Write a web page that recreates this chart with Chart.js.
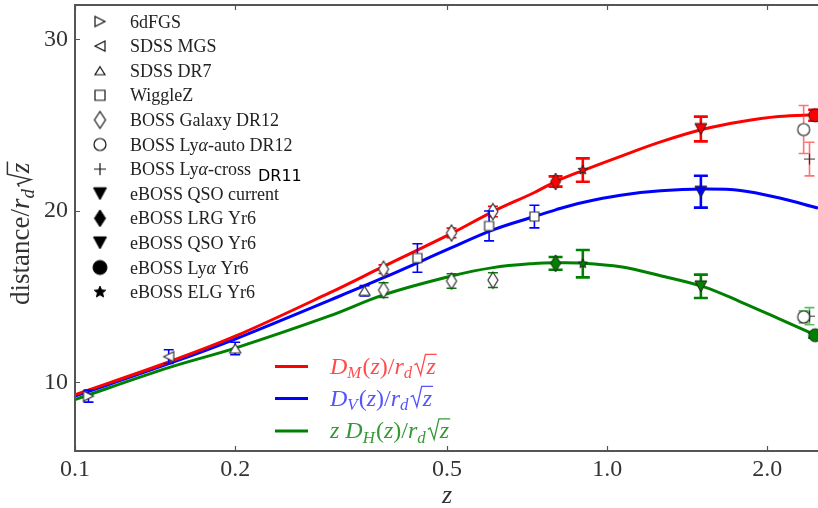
<!DOCTYPE html>
<html>
<head>
<meta charset="utf-8">
<script src="https://cdn.jsdelivr.net/npm/chart.js@4.4.1/dist/chart.umd.min.js"></script>
<style>
  html, body { margin: 0; padding: 0; background: #fff; overflow: hidden; }
  #wrap { width: 818px; height: 508px; }
</style>
</head>
<body>
<div id="wrap"><canvas id="c" width="818" height="508"></canvas></div>
<script>
// model curves
const Z_CURVE  = [0.1, 0.15, 0.2, 0.3, 0.38, 0.51, 0.61, 0.73, 0.8, 0.9, 1.06, 1.26, 1.52, 1.78, 2.1, 2.49];
const DM_CURVE = [9.28, 11.19, 12.69, 15.2, 16.76, 18.69, 19.96, 21.07, 21.71, 22.35, 23.18, 24.02, 24.77, 25.2, 25.5, 25.61];
const DV_CURVE = [9.2, 11.09, 12.53, 14.77, 16.1, 17.85, 18.89, 19.67, 20.06, 20.49, 20.91, 21.17, 21.27, 21.19, 20.76, 20.16];
const DH_CURVE = [9.0, 10.86, 12.0, 13.86, 15.1, 16.2, 16.69, 16.93, 16.97, 16.95, 16.74, 16.22, 15.57, 14.7, 13.72, 12.69];

// measurements
const Z_6DF = [0.106], DV_6DF = [9.2], DV_6DF_ERR = [0.35];
const Z_MGS = [0.15], DV_MGS = [11.5], DV_MGS_ERR = [0.4];
const Z_DR7 = [0.2, 0.35], DV_DR7 = [11.98, 15.34], DV_DR7_ERR = [0.36, 0.3];
const Z_WIGGLEZ = [0.44, 0.6, 0.73], DV_WIGGLEZ = [17.25, 19.12, 19.67], DV_WIGGLEZ_ERR = [0.83, 0.87, 0.66];
const Z_BOSS = [0.38, 0.51, 0.61];
const DM_BOSS = [16.6, 18.71, 19.96], DM_BOSS_ERR = [0.25, 0.28, 0.3];
const DH_BOSS = [15.38, 15.91, 15.96], DH_BOSS_ERR = [0.43, 0.42, 0.43];
const Z_LYA_AUTO = [2.34], DM_LYA_AUTO = [24.74], DM_LYA_AUTO_ERR = [1.4], DH_LYA_AUTO = [13.82], DH_LYA_AUTO_ERR = [0.35];
const Z_LYA_CROSS = [2.40], DM_LYA_CROSS = [23.02], DM_LYA_CROSS_ERR = [0.98], DH_LYA_CROSS = [13.86], DH_LYA_CROSS_ERR = [0.5];

// eBOSS forecasts
const Z_LRG = [0.8], DM_LRG = [21.71], DM_LRG_ERR = [0.3], DH_LRG = [16.94], DH_LRG_ERR = [0.37];
const Z_ELG = [0.9], DM_ELG = [22.38], DM_ELG_ERR = [0.68], DH_ELG = [16.92], DH_ELG_ERR = [0.8];
const Z_QSO = [1.5], DM_QSO = [24.77], DM_QSO_ERR = [0.72], DV_QSO = [21.12], DV_QSO_ERR = [0.93], DH_QSO = [15.6], DH_QSO_ERR = [0.68];
const Z_LYA = [2.46], DM_LYA = [25.57], DM_LYA_ERR = [0.32], DH_LYA = [12.75], DH_LYA_ERR = [0.15];

const X_TICKS = [0.1, 0.2, 0.5, 1.0, 2.0];
const Y_TICKS = [10, 20, 30];
const LEGEND_LABELS = ['6dFGS', 'SDSS MGS', 'SDSS DR7', 'WiggleZ', 'BOSS Galaxy DR12', 'BOSS Lyα-auto DR12',
  'BOSS Lyα-cross', 'eBOSS QSO current', 'eBOSS LRG Yr6', 'eBOSS QSO Yr6', 'eBOSS Lyα Yr6', 'eBOSS ELG Yr6'];

const RED = '#ff0000', BLUE = '#0000ff', GREEN = '#008000';
const SERIF = '"Liberation Serif", "DejaVu Serif", serif';

// little canvases used as point styles
function marker(kind, fill, stroke, w, h, lw) {
  const pad = 2;
  const c = document.createElement('canvas');
  c.width = Math.ceil(w + 2 * pad); c.height = Math.ceil(h + 2 * pad);
  const g = c.getContext('2d');
  const cx = c.width / 2, cy = c.height / 2, rx = w / 2, ry = h / 2;
  g.beginPath();
  if (kind == 'up') { g.moveTo(cx, cy - ry); g.lineTo(cx + rx, cy + ry); g.lineTo(cx - rx, cy + ry); g.closePath(); }
  else if (kind == 'down') { g.moveTo(cx, cy + ry); g.lineTo(cx + rx, cy - ry); g.lineTo(cx - rx, cy - ry); g.closePath(); }
  else if (kind == 'right') { g.moveTo(cx + rx, cy); g.lineTo(cx - rx, cy - ry); g.lineTo(cx - rx, cy + ry); g.closePath(); }
  else if (kind == 'left') { g.moveTo(cx - rx, cy); g.lineTo(cx + rx, cy - ry); g.lineTo(cx + rx, cy + ry); g.closePath(); }
  else if (kind == 'square') { g.rect(cx - rx, cy - ry, w, h); }
  else if (kind == 'diamond') { g.moveTo(cx, cy - ry); g.lineTo(cx + rx, cy); g.lineTo(cx, cy + ry); g.lineTo(cx - rx, cy); g.closePath(); }
  else if (kind == 'circle') { g.arc(cx, cy, rx, 0, Math.PI * 2); }
  else if (kind == 'plus') { g.moveTo(cx - rx, cy); g.lineTo(cx + rx, cy); g.moveTo(cx, cy - ry); g.lineTo(cx, cy + ry); }
  else if (kind == 'star') {
    for (let i = 0; i < 10; i++) {
      const r = i % 2 ? rx * 0.45 : rx;
      const a = -Math.PI / 2 + i * Math.PI / 5;
      const px = cx + r * Math.cos(a), py = cy + r * Math.sin(a) * (ry / rx);
      i ? g.lineTo(px, py) : g.moveTo(px, py);
    }
    g.closePath();
  }
  if (fill && kind != 'plus') { g.fillStyle = fill; g.fill(); }
  g.strokeStyle = stroke; g.lineWidth = lw; g.stroke();
  return c;
}

const OPEN = '#ffffff', EDGE = '#333333';
const M = {
  right: marker('right', OPEN, EDGE, 10, 10, 1.2),
  left: marker('left', OPEN, EDGE, 10, 10, 1.2),
  up: marker('up', OPEN, EDGE, 11, 9, 1.2),
  square: marker('square', OPEN, EDGE, 9, 9, 1.2),
  diamond: marker('diamond', OPEN, EDGE, 10, 16, 1.2),
  circle: marker('circle', OPEN, EDGE, 12, 12, 1.2),
  plus: marker('plus', null, EDGE, 11, 11, 1.2),
};

function curve(label, ys, color) {
  return {
    type: 'line', label: label,
    data: Z_CURVE.map((z, i) => ({ x: z, y: ys[i] })),
    borderColor: color, borderWidth: 3, pointRadius: 0,
    tension: 0.35, fill: false, order: 10
  };
}

function obs(zs, vs, errs, style, errColor, errWidth, capW) {
  return {
    type: 'scatter',
    data: zs.map((z, i) => ({ x: z, y: vs[i] })),
    pointStyle: style, pointRadius: 5, pointHoverRadius: 5,
    err: errs, errColor: errColor, errWidth: errWidth, capW: capW, order: 0
  };
}

const RED_LIGHT = 'rgba(255,40,40,0.65)', GREEN_LIGHT = 'rgba(0,140,0,0.6)';

const datasets = [
  curve('DM', DM_CURVE, RED),
  curve('DV', DV_CURVE, BLUE),
  curve('DH', DH_CURVE, GREEN),
  obs(Z_6DF, DV_6DF, DV_6DF_ERR, M.right, BLUE, 1.6, 10),
  obs(Z_MGS, DV_MGS, DV_MGS_ERR, M.left, BLUE, 1.6, 10),
  obs(Z_DR7, DV_DR7, DV_DR7_ERR, M.up, BLUE, 1.6, 10),
  obs(Z_WIGGLEZ, DV_WIGGLEZ, DV_WIGGLEZ_ERR, M.square, BLUE, 1.6, 10),
  obs(Z_BOSS, DM_BOSS, DM_BOSS_ERR, M.diamond, RED, 1.6, 10),
  obs(Z_BOSS, DH_BOSS, DH_BOSS_ERR, M.diamond, GREEN, 1.6, 10),
  obs(Z_LYA_AUTO, DM_LYA_AUTO, DM_LYA_AUTO_ERR, M.circle, RED_LIGHT, 1.6, 10),
  obs(Z_LYA_CROSS, DM_LYA_CROSS, DM_LYA_CROSS_ERR, M.plus, RED_LIGHT, 1.6, 10),
  obs(Z_LYA_AUTO, DH_LYA_AUTO, DH_LYA_AUTO_ERR, M.circle, GREEN_LIGHT, 1.6, 10),
  obs(Z_LYA_CROSS, DH_LYA_CROSS, DH_LYA_CROSS_ERR, M.plus, GREEN_LIGHT, 1.6, 10),
  obs(Z_LRG, DM_LRG, DM_LRG_ERR, marker('diamond', RED, '#222', 10, 17, 1), RED, 2.6, 14),
  obs(Z_LRG, DH_LRG, DH_LRG_ERR, marker('diamond', GREEN, '#222', 10, 17, 1), GREEN, 2.6, 14),
  obs(Z_ELG, DM_ELG, DM_ELG_ERR, marker('star', RED, '#222', 10, 10, 1), RED, 2.6, 14),
  obs(Z_ELG, DH_ELG, DH_ELG_ERR, marker('star', GREEN, '#222', 10, 10, 1), GREEN, 2.6, 14),
  obs(Z_QSO, DM_QSO, DM_QSO_ERR, marker('down', RED, '#222', 12, 11, 1), RED, 2.6, 14),
  obs(Z_QSO, DV_QSO, DV_QSO_ERR, marker('down', BLUE, '#222', 12, 11, 1), BLUE, 2.6, 14),
  obs(Z_QSO, DH_QSO, DH_QSO_ERR, marker('down', GREEN, '#222', 12, 11, 1), GREEN, 2.6, 14),
  obs(Z_LYA, DM_LYA, DM_LYA_ERR, marker('circle', RED, '#222', 13, 13, 1), RED, 2.6, 14),
  obs(Z_LYA, DH_LYA, DH_LYA_ERR, marker('circle', GREEN, '#222', 13, 13, 1), GREEN, 2.6, 14),
];

// error bars go down right before their own markers
const errorBars = {
  id: 'errorBars',
  beforeDatasetDraw(chart, args) {
    const ds = chart.data.datasets[args.index];
    if (!ds.err) return;
    const ctx = chart.ctx, xs = chart.scales.x, ys = chart.scales.y;
    ctx.save();
    ctx.strokeStyle = ds.errColor; ctx.lineWidth = ds.errWidth;
    ds.data.forEach((p, i) => {
      const x = xs.getPixelForValue(p.x);
      const y1 = ys.getPixelForValue(p.y - ds.err[i]);
      const y2 = ys.getPixelForValue(p.y + ds.err[i]);
      const h = ds.capW / 2;
      ctx.beginPath();
      ctx.moveTo(x, y1); ctx.lineTo(x, y2);
      ctx.moveTo(x - h, y1); ctx.lineTo(x + h, y1);
      ctx.moveTo(x - h, y2); ctx.lineTo(x + h, y2);
      ctx.stroke();
    });
    ctx.restore();
  }
};

// text with italics, subscripts and a square root
function richWidth(ctx, parts, size) {
  let w = 0;
  parts.forEach(p => {
    if (p.sqrt) {
      ctx.font = 'italic ' + size + 'px ' + SERIF;
      w += size * 0.55 + ctx.measureText(p.sqrt).width + size * 0.05;
    } else {
      ctx.font = (p.it ? 'italic ' : '') + (p.sub ? size * 0.7 : size) + 'px ' + SERIF;
      w += ctx.measureText(p.t).width + (p.sub ? size * 0.05 : 0);
    }
  });
  return w;
}
function drawRich(ctx, x, y, parts, size, color) {
  ctx.fillStyle = color; ctx.strokeStyle = color;
  ctx.textBaseline = 'alphabetic'; ctx.textAlign = 'left';
  parts.forEach(p => {
    if (p.sqrt) {
      ctx.font = 'italic ' + size + 'px ' + SERIF;
      const zw = ctx.measureText(p.sqrt).width;
      ctx.lineWidth = Math.max(1, size * 0.055);
      ctx.beginPath();
      ctx.moveTo(x + size * 0.04, y - size * 0.36);
      ctx.lineTo(x + size * 0.14, y - size * 0.42);
      ctx.lineTo(x + size * 0.30, y + size * 0.06);
      ctx.lineTo(x + size * 0.50, y - size * 0.80);
      ctx.lineTo(x + size * 0.55 + zw + size * 0.03, y - size * 0.80);
      ctx.stroke();
      ctx.fillText(p.sqrt, x + size * 0.54, y);
      x += size * 0.55 + zw + size * 0.05;
    } else {
      const s = p.sub ? size * 0.7 : size;
      ctx.font = (p.it ? 'italic ' : '') + s + 'px ' + SERIF;
      ctx.fillText(p.t, x, p.sub ? y + size * 0.2 : y);
      x += ctx.measureText(p.t).width + (p.sub ? size * 0.05 : 0);
    }
  });
}

const LEGEND_KINDS = [
  marker('right', OPEN, '#111', 10, 10, 1.2),
  marker('left', OPEN, '#111', 10, 10, 1.2),
  marker('up', OPEN, '#111', 10, 8, 1.2),
  marker('square', OPEN, '#111', 10, 10, 1.2),
  marker('diamond', OPEN, '#111', 11, 17, 1.2),
  marker('circle', OPEN, '#111', 12, 12, 1.2),
  marker('plus', null, '#111', 12, 12, 1.2),
  marker('down', '#000', '#000', 13, 12, 1),
  marker('diamond', '#000', '#000', 11, 17, 1),
  marker('down', '#000', '#000', 13, 12, 1),
  marker('circle', '#000', '#000', 14, 14, 1),
  marker('star', '#000', '#000', 12, 12, 1),
];

// keep the plot box where the reference has it
function fixBox(size) {
  return s => {
    if (s.isHorizontal()) s.height = size; else s.width = size;
    s.paddingTop = 0; s.paddingBottom = 0; s.paddingLeft = 0; s.paddingRight = 0;
  };
}

const decor = {
  id: 'decor',
  afterDraw(chart) {
    const ctx = chart.ctx, a = chart.chartArea, xs = chart.scales.x, ys = chart.scales.y;
    ctx.save();
    // frame
    ctx.strokeStyle = '#555'; ctx.lineWidth = 2;
    ctx.beginPath();
    ctx.moveTo(a.right + 2, a.top); ctx.lineTo(a.left, a.top); ctx.lineTo(a.left, a.bottom); ctx.lineTo(a.right + 2, a.bottom);
    ctx.stroke();
    ctx.lineWidth = 1.2;
    ctx.beginPath();
    X_TICKS.forEach(t => {
      const x = Math.round(xs.getPixelForValue(t)) + 0.5;
      ctx.moveTo(x, a.bottom); ctx.lineTo(x, a.bottom - 5);
      ctx.moveTo(x, a.top); ctx.lineTo(x, a.top + 5);
    });
    Y_TICKS.forEach(t => {
      const y = Math.round(ys.getPixelForValue(t)) + 0.5;
      ctx.moveTo(a.left, y); ctx.lineTo(a.left + 5, y);
    });
    ctx.stroke();

    // marker legend
    LEGEND_LABELS.forEach((lab, i) => {
      const y = 21.5 + i * 24.6;
      const m = LEGEND_KINDS[i];
      ctx.drawImage(m, 100 - m.width / 2, y - m.height / 2);
      const parts = lab.split('α');
      const segs = [];
      parts.forEach((s, j) => {
        if (j) segs.push({ t: 'α', it: true });
        if (s) segs.push({ t: s });
      });
      drawRich(ctx, 130, y + 6, segs, 18, '#222');
    });
    ctx.font = '16px "DejaVu Sans", sans-serif';
    ctx.fillStyle = '#000';
    ctx.fillText('DR11', 258, 181);

    // curve legend
    const rows = [
      [RED, 'rgba(255,30,30,0.8)', [{ t: 'D', it: true }, { t: 'M', it: true, sub: true }]],
      [BLUE, 'rgba(40,40,255,0.8)', [{ t: 'D', it: true }, { t: 'V', it: true, sub: true }]],
      [GREEN, 'rgba(0,128,0,0.8)', [{ t: 'z ', it: true }, { t: 'D', it: true }, { t: 'H', it: true, sub: true }]],
    ];
    const ly = [366.5, 398.5, 431];
    rows.forEach((r, i) => {
      ctx.strokeStyle = r[0]; ctx.lineWidth = 3;
      ctx.beginPath(); ctx.moveTo(275, ly[i]); ctx.lineTo(308, ly[i]); ctx.stroke();
      const segs = r[2].concat([{ t: '(' }, { t: 'z', it: true }, { t: ')/' }, { t: 'r', it: true }, { t: 'd', it: true, sub: true }, { sqrt: 'z' }]);
      drawRich(ctx, 330, ly[i] + 7, segs, 24, r[1]);
    });

    // axis titles
    ctx.font = 'italic 26px ' + SERIF;
    ctx.fillStyle = '#333'; ctx.textAlign = 'center'; ctx.textBaseline = 'alphabetic';
    ctx.fillText('z', 447, 503);
    const ttl = [{ t: 'distance/' }, { t: 'r', it: true }, { t: 'd', it: true, sub: true }, { sqrt: 'z' }];
    ctx.translate(29, 233);
    ctx.rotate(-Math.PI / 2);
    const w = richWidth(ctx, ttl, 27);
    drawRich(ctx, -w / 2, 0, ttl, 27, '#333');
    ctx.restore();
  }
};

new Chart(document.getElementById('c'), {
  type: 'scatter',
  data: { datasets: datasets },
  options: {
    responsive: false, animation: false, events: [],
    layout: { autoPadding: false, padding: { top: 5, right: 0, left: 0, bottom: 0 } },
    plugins: { legend: { display: false }, tooltip: { enabled: false } },
    scales: {
      x: {
        type: 'logarithmic', min: 0.1, max: 2.49,
        grid: { display: false, drawTicks: false }, border: { display: false },
        afterBuildTicks: s => { s.ticks = X_TICKS.map(v => ({ value: v })); },
        afterFit: fixBox(57),
        ticks: {
          color: '#333', padding: 4, maxRotation: 0,
          font: { family: SERIF, size: 24 },
          callback: v => v.toFixed(1)
        }
      },
      y: {
        min: 6, max: 32,
        grid: { display: false, drawTicks: false }, border: { display: false },
        afterBuildTicks: s => { s.ticks = Y_TICKS.map(v => ({ value: v })); },
        afterFit: fixBox(75),
        ticks: {
          color: '#333', padding: 7,
          font: { family: SERIF, size: 24 },
          callback: v => String(v)
        }
      }
    }
  },
  plugins: [errorBars, decor]
});
</script>
</body>
</html>
